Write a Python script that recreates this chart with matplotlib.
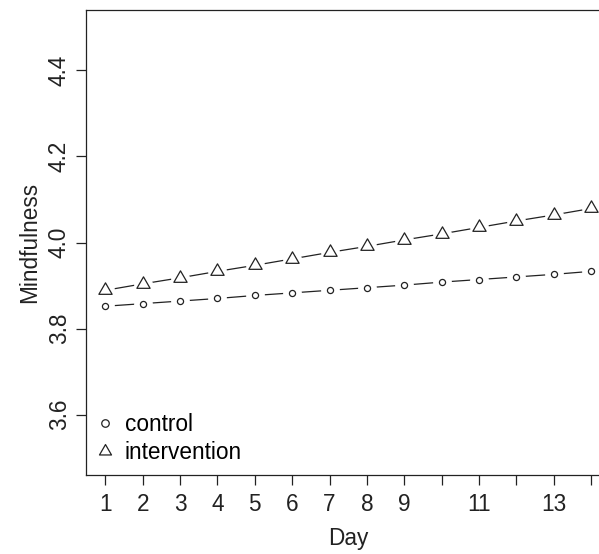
import numpy as np
import matplotlib
matplotlib.use("Agg")
import matplotlib.pyplot as plt
from matplotlib.lines import Line2D
from matplotlib.path import Path

plt.rcParams['font.family'] = ['Liberation Sans', 'DejaVu Sans']

days = np.arange(1, 15)
control = [3.852, 3.858, 3.864, 3.870, 3.877, 3.883, 3.889,
           3.895, 3.901, 3.908, 3.914, 3.920, 3.926, 3.933]
intervention = [3.889, 3.904, 3.918, 3.933, 3.947, 3.962, 3.977,
                3.991, 4.006, 4.020, 4.035, 4.050, 4.064, 4.079]
xtick_labels = ['1', '2', '3', '4', '5', '6', '7', '8', '9', '', '11', '', '13', '']
yticks = [3.6, 3.8, 4.0, 4.2, 4.4]

ink = '#222222'
fs = 16.3
tri = Path([(-1, -0.577), (1, -0.577), (0, 1.155), (-1, -0.577)],
           [Path.MOVETO, Path.LINETO, Path.LINETO, Path.CLOSEPOLY])

fig = plt.figure(figsize=(5.99, 5.54), dpi=100)
ax = fig.add_axes([86 / 599, 79 / 554, 524.5 / 599, 465 / 554])

# lines first, then white halos so segments stop short of the points (R type="b")
for y in (control, intervention):
    ax.plot(days, y, color=ink, lw=0.9, zorder=2)
for y in (control, intervention):
    ax.plot(days, y, ls='none', marker='o', ms=12.5, mfc='white', mec='white', zorder=3)
ax.plot(days, control, ls='none', marker='o', ms=4.4, mfc='white', mec=ink, mew=0.9, zorder=4)
ax.plot(days, intervention, ls='none', marker=tri, ms=11, mfc='white', mec=ink, mew=0.9, zorder=4)

ax.set_xlim(0.48, 14.52)
ax.set_ylim(3.46, 4.54)
ax.set_xticks(days)
ax.set_xticklabels(xtick_labels)
ax.set_yticks(yticks)
ax.set_yticklabels([f'{v:.1f}' for v in yticks], rotation=90, va='center')
ax.tick_params(direction='out', length=7, width=0.9, colors=ink, labelsize=fs, pad=6)
ax.tick_params(axis='y', pad=4)
for s in ax.spines.values():
    s.set_color(ink)
    s.set_linewidth(0.9)

ax.set_xlabel('Day', fontsize=fs, color=ink, labelpad=8)
ax.set_ylabel('Mindfulness', fontsize=fs, color=ink, labelpad=5)

handles = [Line2D([], [], ls='none', marker='o', ms=5.4, mfc='white', mec=ink, mew=0.9),
           Line2D([], [], ls='none', marker=tri, ms=10, mfc='white', mec=ink, mew=0.9)]
ax.legend(handles, ['control', 'intervention'], loc='lower left', frameon=False,
          fontsize=fs, handlelength=0.8, handletextpad=0.45, labelspacing=0.22,
          borderaxespad=0.2, borderpad=0.3, bbox_to_anchor=(-0.002, 0.0))

fig.savefig('out.png', dpi=100)
